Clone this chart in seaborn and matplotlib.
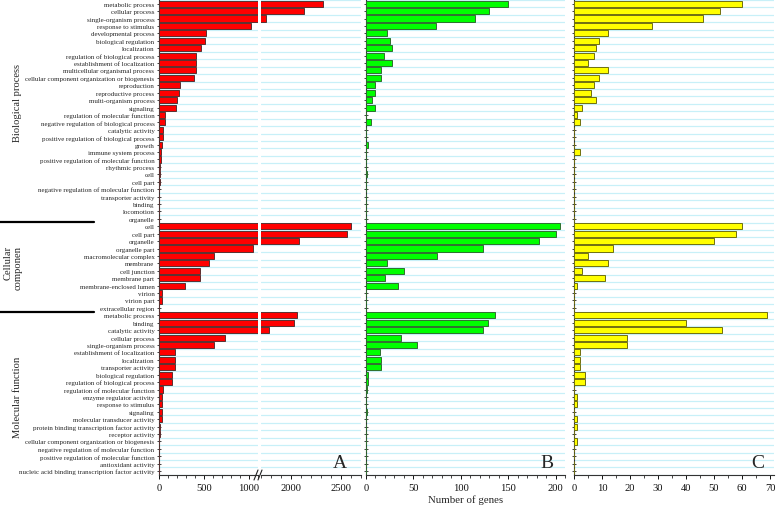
import numpy as np
import pandas as pd
import matplotlib
matplotlib.use("Agg")
import matplotlib.pyplot as plt
from matplotlib.lines import Line2D
from matplotlib.ticker import MultipleLocator
import seaborn as sns

# ---------------- data ----------------
bp_terms = [
    "metabolic process", "cellular process", "single-organism process", "response to stimulus",
    "developmental process", "biological regulation", "localization",
    "regulation of biological process", "establishment of localization",
    "multicellular organismal process", "cellular component organization or biogenesis",
    "reproduction", "reproductive process", "multi-organism process", "signaling",
    "regulation of molecular function", "negative regulation of biological process",
    "catalytic activity", "positive regulation of biological process", "growth",
    "immune system process", "positive regulation of molecular function", "rhythmic process",
    "cell", "cell part", "negative regulation of molecular function", "transporter activity",
    "binding", "locomotion", "organelle",
]
cc_terms = [
    "cell", "cell part", "organelle", "organelle part", "macromolecular complex", "membrane",
    "cell junction", "membrane part", "membrane-enclosed lumen", "virion", "virion part",
    "extracellular region",
]
mf_terms = [
    "metabolic process", "binding", "catalytic activity", "cellular process",
    "single-organism process", "establishment of localization", "localization",
    "transporter activity", "biological regulation", "regulation of biological process",
    "regulation of molecular function", "enzyme regulator activity", "response to stimulus",
    "signaling", "molecular transducer activity", "protein binding transcription factor activity",
    "receptor activity", "cellular component organization or biogenesis",
    "negative regulation of molecular function", "positive regulation of molecular function",
    "antioxidant activity", "nucleic acid binding transcription factor activity",
]

a_bp = [2320, 2125, 1745, 1020, 520, 512, 470, 410, 410, 408, 390, 233, 222, 196, 193,
        67, 67, 48, 48, 30, 24, 20, 15, 10, 8, 5, 5, 3, 2, 2]
b_bp = [150, 130, 115, 74, 22, 25, 27, 19, 27, 16, 16, 9, 9, 6, 10,
        0, 5, 0, 0, 2, 0, 0, 0, 1, 0, 0, 0, 0, 0, 0]
c_bp = [60, 52, 46, 28, 12, 9, 8, 7, 5, 12, 9, 7, 6, 8, 3,
        1, 2, 0, 0, 0, 2, 0, 0, 0, 0, 0, 0, 0, 0, 0]

a_cc = [2600, 2555, 2075, 1048, 607, 559, 459, 459, 285, 33, 37, 3]
b_cc = [205, 201, 183, 123, 75, 22, 40, 20, 34, 0, 0, 0]
c_cc = [60, 58, 50, 14, 5, 12, 3, 11, 1, 0, 0, 0]

a_mf = [2062, 2028, 1782, 730, 607, 178, 178, 178, 148, 148, 44, 33, 33, 33, 33, 11, 8, 5, 3, 2, 1, 1]
b_mf = [136, 129, 123, 37, 54, 15, 16, 16, 2.5, 2.5, 1, 0, 0, 1, 0, 0, 0, 0, 0, 0, 0, 0]
c_mf = [69, 40, 53, 19, 19, 2, 2, 2, 4, 4, 0, 1, 1, 0, 1, 1, 0, 1, 0, 0, 0, 0]

terms = bp_terms + cc_terms + mf_terms
n = len(terms)
keys = [f"r{i}" for i in range(n)]
df = pd.DataFrame({
    "key": keys,
    "term": terms,
    "A": a_bp + a_cc + a_mf,
    "B": b_bp + b_cc + b_mf,
    "C": c_bp + c_cc + c_mf,
})

# ---------------- style ----------------
sns.set_style("ticks")
plt.rcParams["font.family"] = ["Liberation Serif", "DejaVu Serif"]

W, H = 778, 510
fig = plt.figure(figsize=(W / 100, H / 100), dpi=100)

top_px, bot_px = 0, 476
yb = (H - bot_px) / H
hh = (bot_px - top_px) / H

axA1 = fig.add_axes([159 / W, yb, 99 / W, hh])
axA2 = fig.add_axes([261 / W, yb, 100 / W, hh])
axB = fig.add_axes([366 / W, yb, 199 / W, hh])
axC = fig.add_axes([574 / W, yb, 200 / W, hh])

grid_col = "#c8f0f8"
spine_col = "#333333"
panels = [
    (axA1, "A", "#ff0000", "#5a3030", (0, 1100)),
    (axA2, "A", "#ff0000", "#5a3030", (1700, 2700)),
    (axB, "B", "#00ff00", "#2f6f2f", (0, 210)),
    (axC, "C", "#ffff00", "#6f6f10", (0, 71.4)),
]

for ax, col, fc, ec, xl in panels:
    for k in range(n + 1):
        ax.axhline(k - 0.5, color=grid_col, lw=0.9, zorder=0)
    sns.barplot(data=df, x=col, y="key", order=keys, orient="h", color=fc,
                saturation=1, edgecolor=ec, linewidth=0.7, width=0.82, ax=ax, zorder=3)
    ax.set_xlim(*xl)
    ax.set_ylim(n - 0.48, -0.63)
    ax.set_xlabel("")
    ax.set_ylabel("")
    for s in ["top", "right"]:
        ax.spines[s].set_visible(False)
    for s in ["left", "bottom"]:
        ax.spines[s].set_color(spine_col)
        ax.spines[s].set_linewidth(0.8)
    ax.tick_params(axis="x", direction="out", length=3, width=0.7, pad=2.5,
                   labelsize=7.6, colors="#111111")
    ax.tick_params(axis="x", which="minor", direction="out", length=1.8, width=0.6)
    ax.set_yticks(range(n))
    ax.tick_params(axis="y", direction="inout", length=3.5, width=0.6, pad=1.5)

# A left segment
axA1.set_yticklabels(terms, fontsize=5.0)
axA1.set_xticks([0, 500, 1000])
axA1.xaxis.set_minor_locator(MultipleLocator(100))
# A right segment
axA2.spines["left"].set_visible(False)
axA2.tick_params(axis="y", left=False, labelleft=False)
axA2.set_xticks([2000, 2500])
axA2.xaxis.set_minor_locator(MultipleLocator(100))
# B and C
axB.set_yticklabels([])
axB.set_xticks([0, 50, 100, 150, 200])
axB.xaxis.set_minor_locator(MultipleLocator(10))
axB.set_xlabel("Number of genes", fontsize=7.8, labelpad=2)
axC.set_yticklabels([])
axC.set_xticks(range(0, 71, 10))
axC.xaxis.set_minor_locator(MultipleLocator(5))

# panel letters
for xr, letter in [(347, "A"), (554, "B"), (764, "C")]:
    fig.text(xr / W, 1 - 468 / H, letter, ha="right", va="baseline", fontsize=14)

# axis break marks
for x0 in (254, 258):
    fig.add_artist(Line2D([x0 / W, (x0 + 4) / W], [1 - 481 / H, 1 - 471 / H],
                          color="#222222", lw=0.8))

# group labels and separators
fig.text(18 / W, 1 - 103 / H, "Biological process", rotation=90, ha="center",
         va="center", fontsize=7.6)
fig.text(13 / W, 1 - 268 / H, "Cellular\ncomponen", rotation=90, ha="center",
         va="center", multialignment="right", fontsize=7.6, linespacing=1.05)
fig.text(18 / W, 1 - 397 / H, "Molecular function", rotation=90, ha="center",
         va="center", fontsize=7.6)
for ypx in (223.3, 312.7):
    fig.add_artist(Line2D([0, 94 / W], [1 - ypx / H, 1 - ypx / H], color="black", lw=1.6))

fig.savefig("out.png", dpi=100)
